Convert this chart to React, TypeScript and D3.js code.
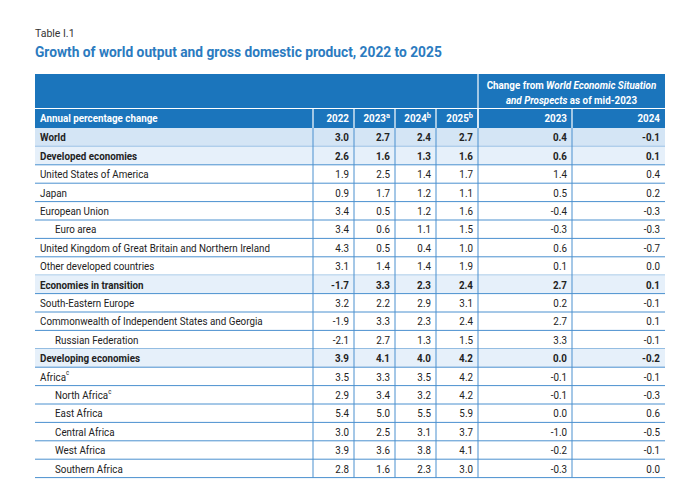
import React from "react";
import * as d3 from "d3";

const rowLabels = [
  "World", "Developed economies", "United States of America", "Japan", "European Union", "Euro area",
  "United Kingdom of Great Britain and Northern Ireland", "Other developed countries", "Economies in transition",
  "South-Eastern Europe", "Commonwealth of Independent States and Georgia", "Russian Federation",
  "Developing economies", "Africa", "North Africa", "East Africa", "Central Africa", "West Africa", "Southern Africa",
];
const rowNotes = ["", "", "", "", "", "", "", "", "", "", "", "", "", "c", "c", "", "", "", ""];
const indented = [false, false, false, false, false, true, false, false, false, false, false, true, false, false, true, true, true, true, true];
const boldRows = [true, true, false, false, false, false, false, false, true, false, false, false, true, false, false, false, false, false, false];
const y2022 = [3.0, 2.6, 1.9, 0.9, 3.4, 3.4, 4.3, 3.1, -1.7, 3.2, -1.9, -2.1, 3.9, 3.5, 2.9, 5.4, 3.0, 3.9, 2.8];
const y2023 = [2.7, 1.6, 2.5, 1.7, 0.5, 0.6, 0.5, 1.4, 3.3, 2.2, 3.3, 2.7, 4.1, 3.3, 3.4, 5.0, 2.5, 3.6, 1.6];
const y2024 = [2.4, 1.3, 1.4, 1.2, 1.2, 1.1, 0.4, 1.4, 2.3, 2.9, 2.3, 1.3, 4.0, 3.5, 3.2, 5.5, 3.1, 3.8, 2.3];
const y2025 = [2.7, 1.6, 1.7, 1.1, 1.6, 1.5, 1.0, 1.9, 2.4, 3.1, 2.4, 1.5, 4.2, 4.2, 4.2, 5.9, 3.7, 4.1, 3.0];
const chg2023 = [0.4, 0.6, 1.4, 0.5, -0.4, -0.3, 0.6, 0.1, 2.7, 0.2, 2.7, 3.3, 0.0, -0.1, -0.1, 0.0, -1.0, -0.2, -0.3];
const chg2024 = [-0.1, 0.1, 0.4, 0.2, -0.3, -0.3, -0.7, 0.0, 0.1, -0.1, 0.1, -0.1, -0.2, -0.1, -0.3, 0.6, -0.5, -0.1, 0.0];
const colHeads = ["2022", "2023", "2024", "2025", "2023", "2024"];
const colNotes = ["", "a", "b", "b", "", ""];

const FONT = "Roboto, 'Noto Sans', sans-serif";
const SX = 0.935;
const BLUE = "#1b75bc";
const LINE = "#4a90cf";

function T({ x, y, anchor = "start", weight = 400, size = 10.5, fill = "#222", children }: any) {
  return (
    <g transform={`translate(${x},${y}) scale(${SX},1)`}>
      <text x={0} y={0} textAnchor={anchor} dominantBaseline="central" fontFamily={FONT} fontSize={size} fontWeight={weight} fill={fill}>
        {children}
      </text>
    </g>
  );
}

export default function App() {
  const left = 35, right = 665;
  const colEdges = [313, 354, 395, 436, 478, 572, right];
  const headTop = 74, headMid = 108.5, headBot = 128;
  const n = rowLabels.length;
  const yRow = d3.scaleBand<number>().domain(d3.range(n)).range([headBot, headBot + n * 18.4]).padding(0);
  const cols = [y2022, y2023, y2024, y2025, chg2023, chg2024];
  const fmt = d3.formatLocale({ decimal: ".", thousands: ",", grouping: [3], currency: ["", ""], minus: "-" }).format(".1f");
  const bottom = headBot + n * 18.4;

  return (
    <svg width={690} height={481} style={{ position: "absolute", left: 0, top: 0, background: "#fff" }}>
      <text x={35} y={33} dominantBaseline="central" fontFamily={FONT} fontSize={10.5} fill="#333">Table I.1</text>
      <text x={35} y={52} dominantBaseline="central" fontFamily={FONT} fontSize={13.75} fontWeight={700} fill="#2b7bc0">
        Growth of world output and gross domestic product, 2022 to 2025
      </text>

      {/* header */}
      <rect x={left} y={headTop} width={right - left} height={headBot - headTop} fill={BLUE} />
      <line x1={left} x2={right} y1={headMid} y2={headMid} stroke="#fff" strokeWidth={1.2} />
      <line x1={colEdges[4]} x2={colEdges[4]} y1={headTop} y2={headBot} stroke="#fff" strokeWidth={1.2} />
      {colEdges.slice(0, 6).map((x, i) => (
        <line key={i} x1={x} x2={x} y1={headMid} y2={headBot} stroke="#fff" strokeWidth={1.2} />
      ))}
      <g transform={`translate(${(colEdges[4] + right) / 2},85) scale(${SX},1)`}>
        <text textAnchor="middle" dominantBaseline="central" fontFamily={FONT} fontSize={10.5} fontWeight={700} fill="#fff">
          Change from <tspan fontStyle="italic">World Economic Situation</tspan>
        </text>
      </g>
      <g transform={`translate(${(colEdges[4] + right) / 2},100) scale(${SX},1)`}>
        <text textAnchor="middle" dominantBaseline="central" fontFamily={FONT} fontSize={10.5} fontWeight={700} fill="#fff">
          <tspan fontStyle="italic">and Prospects</tspan> as of mid-2023
        </text>
      </g>
      <T x={40} y={(headMid + headBot) / 2 + 0.5} weight={700} fill="#fff">Annual percentage change</T>
      {colHeads.map((h, i) => (
        <T key={i} x={colEdges[i + 1] - 5} y={(headMid + headBot) / 2 + 0.5} anchor="end" weight={700} fill="#fff">
          {h}
          {colNotes[i] && <tspan fontSize={8} dy={-3.5}>{colNotes[i]}</tspan>}
        </T>
      ))}

      {/* rows */}
      {rowLabels.map((lab, r) => {
        const y0 = yRow(r)!;
        const h = yRow.bandwidth();
        const cy = y0 + h / 2 + 0.5;
        const bold = boldRows[r];
        return (
          <g key={r}>
            {bold && <rect x={left} y={y0} width={right - left} height={h} fill={r === 0 ? "#d4e5f5" : "#e6f0fa"} />}
            <T x={indented[r] ? 55 : 40} y={cy} weight={bold ? 700 : 400}>
              {lab}
              {rowNotes[r] && <tspan fontSize={6.5} dy={-3.5}>{rowNotes[r]}</tspan>}
            </T>
            {cols.map((c, i) => (
              <T key={i} x={colEdges[i + 1] - 5} y={cy} anchor="end" weight={bold ? 700 : 400}>
                {fmt(c[r])}
              </T>
            ))}
            <line x1={left} x2={right} y1={y0 + h} y2={y0 + h} stroke={LINE} strokeWidth={1} />
          </g>
        );
      })}
      {colEdges.slice(0, 6).map((x, i) => (
        <line key={i} x1={x} x2={x} y1={headBot} y2={bottom} stroke={LINE} strokeWidth={1} />
      ))}
    </svg>
  );
}
